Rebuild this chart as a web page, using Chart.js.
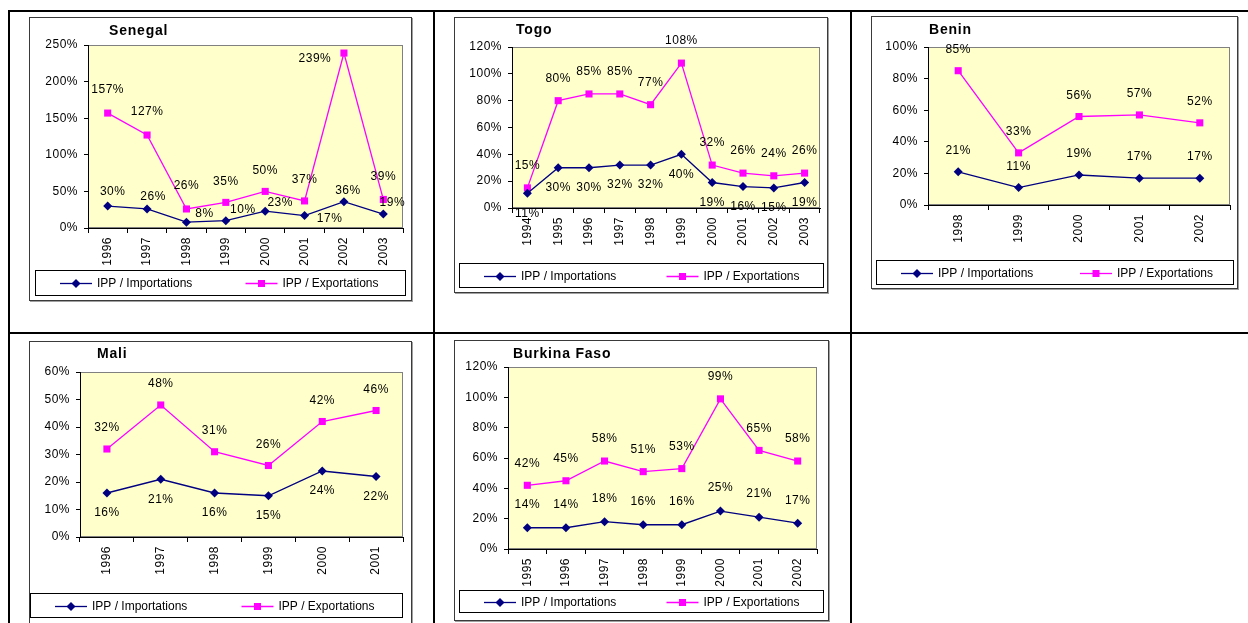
<!DOCTYPE html>
<html lang="fr">
<head>
<meta charset="utf-8">
<title>IPP / Importations et Exportations</title>
<script src="https://cdn.jsdelivr.net/npm/chart.js@4/dist/chart.umd.min.js"></script>
<style>
  html, body { margin: 0; padding: 0; background: #fff; overflow: hidden; }
  body { width: 1248px; height: 623px; position: relative; }
  .rule { position: absolute; background: #000; }
  .box { position: absolute; border: 1px solid #3a3a3a; box-shadow: 1px 1px 0 #a0a0a0; background: #fff; }
  .box canvas { display: block; }
</style>
</head>
<body>
<!-- table rules -->
<div class="rule" style="left:8px;top:10px;width:1240px;height:2px"></div>
<div class="rule" style="left:8px;top:332px;width:1240px;height:2px"></div>
<div class="rule" style="left:8px;top:10px;width:2px;height:613px"></div>
<div class="rule" style="left:433px;top:10px;width:2px;height:613px"></div>
<div class="rule" style="left:850px;top:10px;width:2px;height:613px"></div>

<script>
/* ---------- data (in %) ---------- */
const senegalYears = ['1996', '1997', '1998', '1999', '2000', '2001', '2002', '2003'];
const senegalImp = [30, 26, 8, 10, 23, 17, 36, 19];
const senegalExp = [157, 127, 26, 35, 50, 37, 239, 39];
const senegalTicks = [0, 50, 100, 150, 200, 250];

const togoYears = ['1994', '1995', '1996', '1997', '1998', '1999', '2000', '2001', '2002', '2003'];
const togoImp = [11, 30, 30, 32, 32, 40, 19, 16, 15, 19];
const togoExp = [15, 80, 85, 85, 77, 108, 32, 26, 24, 26];
const togoTicks = [0, 20, 40, 60, 80, 100, 120];

const beninYears = ['1998', '1999', '2000', '2001', '2002'];
const beninImp = [21, 11, 19, 17, 17];
const beninExp = [85, 33, 56, 57, 52];
const beninTicks = [0, 20, 40, 60, 80, 100];

const maliYears = ['1996', '1997', '1998', '1999', '2000', '2001'];
const maliImp = [16, 21, 16, 15, 24, 22];
const maliExp = [32, 48, 31, 26, 42, 46];
const maliTicks = [0, 10, 20, 30, 40, 50, 60];

const burkinaYears = ['1995', '1996', '1997', '1998', '1999', '2000', '2001', '2002'];
const burkinaImp = [14, 14, 18, 16, 16, 25, 21, 17];
const burkinaExp = [42, 45, 58, 51, 53, 99, 65, 58];
const burkinaTicks = [0, 20, 40, 60, 80, 100, 120];

const seriesNames = ['IPP / Importations', 'IPP / Exportations'];

/* ---------- look ---------- */
const NAVY = '#000080';
const MAGENTA = '#FF00FF';
const FONT = "'Liberation Sans', Arial, sans-serif";

Chart.defaults.font.family = FONT;
Chart.defaults.font.size = 12;
Chart.defaults.color = '#000';

// plot background, title, value labels and the Excel-style legend box
const excelLook = {
  id: 'excelLook',
  beforeDraw(chart, args, o) {
    const { ctx, chartArea: a } = chart;
    // Excel text runs a bit wider than Liberation Sans: applies to ticks too
    ctx.letterSpacing = '0.5px';
    ctx.save();
    ctx.fillStyle = '#FFFFCC';
    ctx.fillRect(a.left, a.top, a.width, a.height);
    ctx.strokeStyle = '#808080';
    ctx.lineWidth = 1;
    ctx.strokeRect(a.left + 0.5, a.top + 0.5, a.width - 1, a.height - 1);
    ctx.restore();
  },
  afterDatasetsDraw(chart, args, o) {
    const ctx = chart.ctx;
    ctx.save();
    ctx.font = '12px ' + FONT;
    ctx.fillStyle = '#000';
    ctx.textAlign = 'center';
    ctx.textBaseline = 'middle';
    chart.data.datasets.forEach((ds, i) => {
      const off = o.offsets[i];
      chart.getDatasetMeta(i).data.forEach((pt, j) => {
        const d = Array.isArray(off[0]) ? off[j] : off;
        ctx.fillText(ds.data[j] + '%', pt.x + d[0], pt.y + d[1]);
      });
    });
    ctx.restore();
  },
  afterDraw(chart, args, o) {
    const ctx = chart.ctx;
    ctx.save();
    // title
    ctx.letterSpacing = '0.8px';
    ctx.font = 'bold 14px ' + FONT;
    ctx.fillStyle = '#000';
    ctx.textAlign = 'left';
    ctx.textBaseline = 'middle';
    ctx.fillText(o.title, o.titleX, o.titleY);

    // legend
    ctx.letterSpacing = '0px';
    const L = o.legend;
    ctx.strokeStyle = '#000';
    ctx.lineWidth = 1;
    ctx.strokeRect(L.l + 0.5, L.t + 0.5, L.r - L.l - 1, L.b - L.t - 1);
    const cy = Math.round((L.t + L.b) / 2) + 0.5;
    ctx.font = '12px ' + FONT;
    chart.data.datasets.forEach((ds, i) => {
      const x0 = L.l + 25 + i * (L.r - L.l) / 2;
      ctx.strokeStyle = ds.borderColor;
      ctx.lineWidth = 1.3;
      ctx.beginPath();
      ctx.moveTo(x0, cy);
      ctx.lineTo(x0 + 32, cy);
      ctx.stroke();
      ctx.fillStyle = ds.borderColor;
      const mx = x0 + 16;
      if (ds.pointStyle === 'rectRot') {
        ctx.beginPath();
        ctx.moveTo(mx, cy - 4.5);
        ctx.lineTo(mx + 4.5, cy);
        ctx.lineTo(mx, cy + 4.5);
        ctx.lineTo(mx - 4.5, cy);
        ctx.closePath();
        ctx.fill();
      } else {
        ctx.fillRect(mx - 3.5, cy - 3.5, 7, 7);
      }
      ctx.fillStyle = '#000';
      ctx.fillText(ds.label, x0 + 37, cy);
    });
    ctx.restore();
  }
};

/* ---------- one chart in its framed box ---------- */
function makeChart(cfg) {
  const box = document.createElement('div');
  box.className = 'box';
  box.style.left = cfg.box.x + 'px';
  box.style.top = cfg.box.y + 'px';
  box.style.width = (cfg.box.w - 2) + 'px';
  box.style.height = (cfg.box.h - 2) + 'px';
  const canvas = document.createElement('canvas');
  const cw = cfg.box.w - 2, ch = cfg.box.h - 2;
  canvas.width = cw;
  canvas.height = ch;
  box.appendChild(canvas);
  document.body.appendChild(box);

  // page coords -> canvas coords
  const ox = cfg.box.x + 1, oy = cfg.box.y + 1;
  const yAxisW = cfg.plot.l - ox;
  const xAxisH = 42;
  const ticks = cfg.ticks;

  new Chart(canvas.getContext('2d'), {
    type: 'line',
    data: {
      labels: cfg.years,
      datasets: [
        {
          label: seriesNames[0],
          data: cfg.imp,
          borderColor: NAVY,
          backgroundColor: NAVY,
          borderWidth: 1.3,
          pointStyle: 'rectRot',
          pointRadius: 4.5,
          pointBorderWidth: 0,
          pointBackgroundColor: NAVY,
          tension: 0
        },
        {
          label: seriesNames[1],
          data: cfg.exp,
          borderColor: MAGENTA,
          backgroundColor: MAGENTA,
          borderWidth: 1.3,
          pointStyle: 'rect',
          pointRadius: 5,
          pointBorderWidth: 0,
          pointBackgroundColor: MAGENTA,
          tension: 0
        }
      ]
    },
    options: {
      responsive: false,
      animation: false,
      events: [],
      layout: {
        padding: {
          left: 0,
          top: cfg.plot.t - oy,
          right: ox + cw - cfg.plot.r,
          bottom: ch - (cfg.plot.b - oy) - xAxisH
        }
      },
      plugins: {
        legend: { display: false },
        title: { display: false },
        tooltip: { enabled: false },
        excelLook: {
          title: cfg.title,
          titleX: cfg.titlePos.x - ox,
          titleY: cfg.titlePos.y - oy,
          offsets: cfg.labelOffsets,
          legend: {
            l: cfg.legend.l - ox, t: cfg.legend.t - oy,
            r: cfg.legend.r - ox, b: cfg.legend.b - oy
          }
        }
      },
      scales: {
        x: {
          offset: true,
          grid: { offset: true, drawOnChartArea: false, color: '#000', tickLength: 5 },
          border: { color: '#000' },
          ticks: { color: '#000', minRotation: 90, maxRotation: 90, autoSkip: false, padding: 4 },
          afterFit: (s) => { s.height = xAxisH; }
        },
        y: {
          min: ticks[0],
          max: ticks[ticks.length - 1],
          grid: { drawOnChartArea: false, color: '#000', tickLength: 4 },
          border: { color: '#000' },
          ticks: {
            stepSize: ticks[1] - ticks[0],
            color: '#000',
            padding: 6,
            callback: (v) => v + '%'
          },
          afterFit: (s) => { s.width = yAxisW; }
        }
      }
    },
    plugins: [excelLook]
  });
}

makeChart({
  title: 'Senegal', years: senegalYears, imp: senegalImp, exp: senegalExp, ticks: senegalTicks,
  box: { x: 29, y: 17, w: 383, h: 284 },
  plot: { l: 88, t: 45, r: 403, b: 228 },
  legend: { l: 35, t: 270, r: 406, b: 296 },
  titlePos: { x: 109, y: 31 },
  labelOffsets: [
    [[5, -14], [6, -12], [18, -8], [17, -11], [15, -8], [25, 3], [4, -11], [9, -11]],
    [[0, -23], [0, -23], [0, -23], [0, -21], [0, -21], [0, -21], [-29, 6], [0, -23]]
  ]
});

makeChart({
  title: 'Togo', years: togoYears, imp: togoImp, exp: togoExp, ticks: togoTicks,
  box: { x: 454, y: 17, w: 374, h: 276 },
  plot: { l: 512, t: 47, r: 820, b: 208 },
  legend: { l: 459, t: 263, r: 824, b: 288 },
  titlePos: { x: 516, y: 30 },
  labelOffsets: [[0, 20], [0, -22]]
});

makeChart({
  title: 'Benin', years: beninYears, imp: beninImp, exp: beninExp, ticks: beninTicks,
  box: { x: 871, y: 16, w: 367, h: 273 },
  plot: { l: 928, t: 47, r: 1230, b: 205 },
  legend: { l: 876, t: 260, r: 1234, b: 285 },
  titlePos: { x: 929, y: 30 },
  labelOffsets: [[0, -21], [0, -21]]
});

makeChart({
  title: 'Mali', years: maliYears, imp: maliImp, exp: maliExp, ticks: maliTicks,
  box: { x: 29, y: 341, w: 383, h: 292 },
  plot: { l: 80, t: 372, r: 403, b: 537 },
  legend: { l: 30, t: 593, r: 403, b: 618 },
  titlePos: { x: 97, y: 354 },
  labelOffsets: [[0, 20], [0, -21]]
});

makeChart({
  title: 'Burkina Faso', years: burkinaYears, imp: burkinaImp, exp: burkinaExp, ticks: burkinaTicks,
  box: { x: 454, y: 340, w: 375, h: 281 },
  plot: { l: 508, t: 367, r: 817, b: 549 },
  legend: { l: 459, t: 590, r: 824, b: 613 },
  titlePos: { x: 513, y: 354 },
  labelOffsets: [[0, -23], [0, -22]]
});
</script>
</body>
</html>
